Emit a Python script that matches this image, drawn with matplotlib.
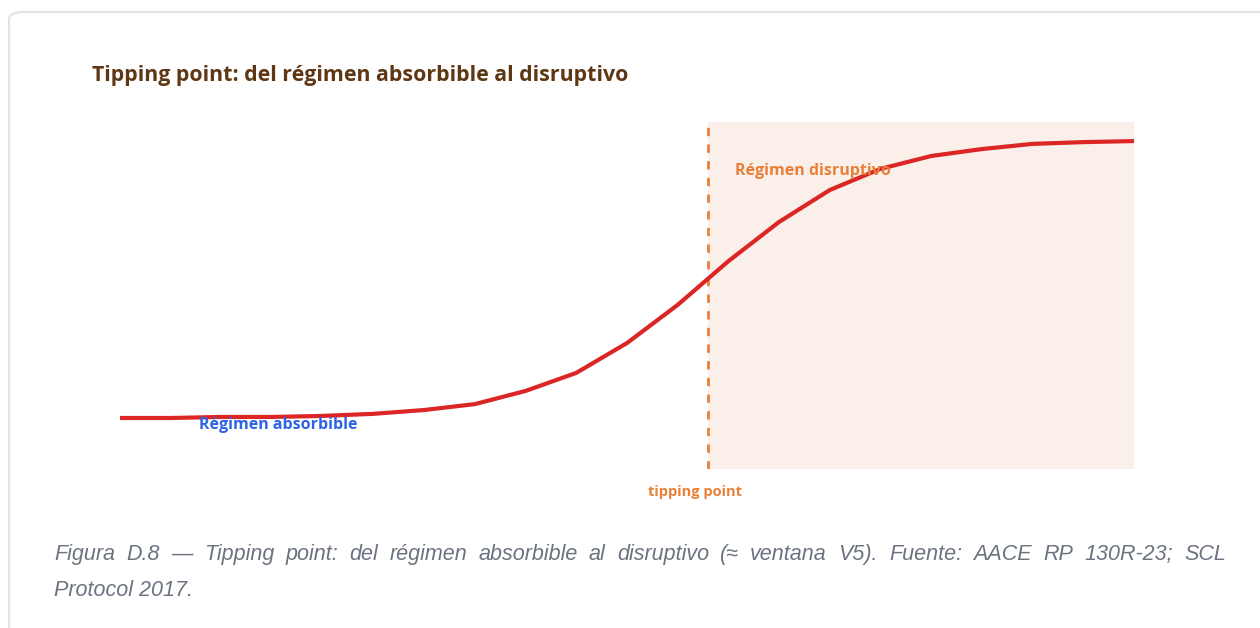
import numpy as np
import matplotlib.pyplot as plt
from matplotlib.patches import FancyBboxPatch

# data
t = list(range(0, 101, 5))
impact = [14.7, 14.7, 15.0, 15.0, 15.3, 15.9, 17.0, 18.7, 22.5, 27.7, 36.3,
          47.3, 59.9, 71.2, 80.4, 86.5, 90.2, 92.2, 93.7, 94.2, 94.5]
tipping_x = 58

title = "Tipping point: del régimen absorbible al disruptivo"
caption_1 = ("Figura D.8 — Tipping point: del régimen absorbible al disruptivo "
             "(≈ ventana V5). Fuente: AACE RP 130R-23; SCL")
caption_2 = "Protocol 2017."

W, H = 1260, 628
fig = plt.figure(figsize=(W / 100, H / 100), dpi=100)
fig.patch.set_facecolor("white")

# card border (open to the right / bottom)
card = FancyBboxPatch((9 / W, 1 - 640 / H), 1300 / W, 628 / H,
                      boxstyle="round,pad=0,rounding_size=0.012",
                      transform=fig.transFigure, fc="none", ec="#e4e4e4",
                      lw=1.6, zorder=-1)
fig.patches.append(card)

ax = fig.add_axes([120 / W, 1 - 469 / H, 1014 / W, 347 / H])
ax.set_xlim(0, 100)
ax.set_ylim(0, 100)
ax.axis("off")

ax.axvspan(tipping_x, 100, color="#faf0e9", zorder=0, lw=0)
ax.axvline(tipping_x, color="#e8803a", lw=2, ls=(0, (3, 3)), zorder=1)
ax.plot(t, impact, color="#dc2626", lw=3, solid_joinstyle="miter", zorder=3)

lab = dict(family="Open Sans", fontweight="bold", fontsize=11.5)
ax.text(7.8, 12.8, "Régimen absorbible", color="#2f63e6", ha="left", va="center", **lab)
ax.text(60.7, 86.0, "Régimen disruptivo", color="#e8803a", ha="left", va="center", **lab)
ax.text(56.7, -6.6, "tipping point", color="#e8803a", ha="center", va="center",
        family="Open Sans", fontweight="bold", fontsize=10.5, clip_on=False)

fig.text(92 / W, 1 - 75 / H, title, color="#5e3714", fontsize=15.4,
         fontweight="bold", family="Open Sans", ha="left", va="center")

# justified first caption line
cap = dict(family="Liberation Sans", style="italic", fontsize=15.5, color="#6b7280")
words = caption_1.split(" ")
renderer = fig.canvas.get_renderer()
texts = [fig.text(0, 1 - 560 / H, w, va="baseline", ha="left", **cap) for w in words]
widths = [tx.get_window_extent(renderer).width for tx in texts]
x0, x1 = 54, 1226
gap = (x1 - x0 - sum(widths)) / (len(words) - 1)
x = x0
for tx, w in zip(texts, widths):
    tx.set_x(x / W)
    x += w + gap
fig.text(x0 / W, 1 - 596 / H, caption_2, va="baseline", ha="left", **cap)

plt.savefig("out.png", dpi=100)
